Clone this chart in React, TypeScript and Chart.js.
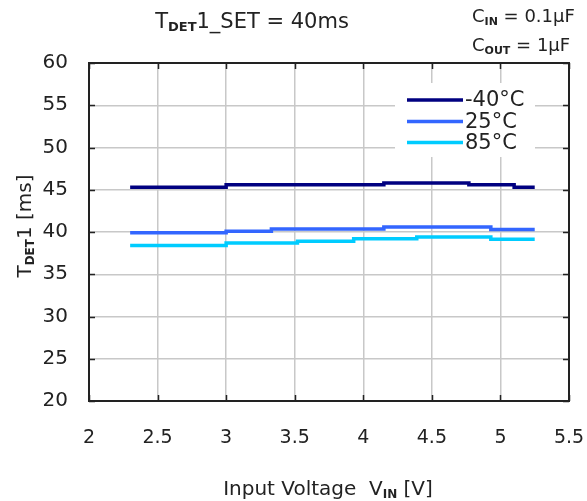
import React, { useEffect, useRef } from "react";
import { Chart, registerables } from "chart.js";

Chart.register(...registerables);

const xTicks = [2, 2.5, 3, 3.5, 4, 4.5, 5, 5.5];
const yTicks = [20, 25, 30, 35, 40, 45, 50, 55, 60];

const seriesNames = ["-40°C", "25°C", "85°C"];
const seriesColors = ["#000080", "#3366ff", "#00ccff"];

const navyX = [2.3, 3.0, 4.15, 4.77, 5.1, 5.25];
const navyY = [45.3, 45.6, 45.8, 45.6, 45.3, 45.3];
const blueX = [2.3, 3.0, 3.33, 4.15, 4.93, 5.25];
const blueY = [39.9, 40.1, 40.35, 40.6, 40.3, 40.3];
const cyanX = [2.3, 3.0, 3.52, 3.93, 4.39, 4.93, 5.25];
const cyanY = [38.4, 38.7, 38.9, 39.2, 39.4, 39.15, 39.15];

const FONT = '"DejaVu Sans", "Liberation Sans", Arial, sans-serif';

type Part = { t: string; sub?: boolean };

function drawRich(ctx: CanvasRenderingContext2D, parts: Part[], x: number, y: number, size: number, align: "left" | "center") {
  const subSize = Math.round(size * 0.62);
  let total = 0;
  const widths = parts.map((p) => {
    ctx.font = `${p.sub ? `bold ${subSize}` : size}px ${FONT}`;
    const w = ctx.measureText(p.t).width;
    total += w;
    return w;
  });
  let cx = align === "center" ? x - total / 2 : x;
  ctx.textBaseline = "alphabetic";
  ctx.textAlign = "left";
  parts.forEach((p, i) => {
    ctx.font = `${p.sub ? `bold ${subSize}` : size}px ${FONT}`;
    ctx.fillText(p.t, cx, p.sub ? y + size * 0.15 : y);
    cx += widths[i];
  });
}

const decorPlugin = {
  id: "decor",
  beforeDraw(chart: any) {
    const ctx = chart.ctx;
    ctx.save();
    ctx.fillStyle = "#ffffff";
    ctx.fillRect(0, 0, chart.width, chart.height);
    ctx.restore();
  },
  afterDatasetsDraw(chart: any) {
    const ctx: CanvasRenderingContext2D = chart.ctx;
    const { left, right, top, bottom } = chart.chartArea;
    const xs = chart.scales.x;
    const ys = chart.scales.y;
    ctx.save();
    // legend box
    ctx.fillStyle = "#ffffff";
    ctx.fillRect(395, 83, 140, 74);
    const legY = [100, 121.5, 142.5];
    seriesNames.forEach((n, i) => {
      ctx.strokeStyle = seriesColors[i];
      ctx.lineWidth = 3.5;
      ctx.beginPath();
      ctx.moveTo(407, legY[i]);
      ctx.lineTo(463, legY[i]);
      ctx.stroke();
      ctx.fillStyle = "#222";
      ctx.font = `21px ${FONT}`;
      ctx.textAlign = "left";
      ctx.textBaseline = "middle";
      ctx.fillText(n, 465, legY[i] + 1);
    });
    // inward ticks
    ctx.strokeStyle = "#222";
    ctx.lineWidth = 1.5;
    ctx.beginPath();
    xTicks.forEach((v) => {
      const px = Math.round(xs.getPixelForValue(v)) + 0.5;
      ctx.moveTo(px, bottom);
      ctx.lineTo(px, bottom - 6);
      ctx.moveTo(px, top);
      ctx.lineTo(px, top + 6);
    });
    yTicks.forEach((v) => {
      const py = Math.round(ys.getPixelForValue(v)) + 0.5;
      ctx.moveTo(left, py);
      ctx.lineTo(left + 6, py);
      ctx.moveTo(right, py);
      ctx.lineTo(right - 6, py);
    });
    ctx.stroke();
    // frame
    ctx.lineWidth = 2;
    ctx.strokeRect(left, top, right - left, bottom - top);
    // texts
    ctx.fillStyle = "#222";
    drawRich(ctx, [{ t: "T" }, { t: "DET", sub: true }, { t: "1_SET = 40ms" }], 252, 28, 21, "center");
    drawRich(ctx, [{ t: "C" }, { t: "IN", sub: true }, { t: " = 0.1μF" }], 472, 22, 18, "left");
    drawRich(ctx, [{ t: "C" }, { t: "OUT", sub: true }, { t: " = 1μF" }], 472, 51, 18, "left");
    drawRich(ctx, [{ t: "Input Voltage  V" }, { t: "IN", sub: true }, { t: " [V]" }], 328, 495, 20, "center");
    ctx.save();
    ctx.translate(31, 226);
    ctx.rotate(-Math.PI / 2);
    drawRich(ctx, [{ t: "T" }, { t: "DET", sub: true }, { t: "1 [ms]" }], 0, 0, 20, "center");
    ctx.restore();
    ctx.restore();
  },
};

function mk(xs: number[], ys: number[]) {
  return xs.map((x, i) => ({ x, y: ys[i] }));
}

export default function App() {
  const ref = useRef<HTMLCanvasElement | null>(null);
  useEffect(() => {
    document.body.style.margin = "0";
    const canvas = ref.current!;
    const chart = new Chart(canvas, {
      type: "line",
      data: {
        datasets: [
          { label: seriesNames[0], data: mk(navyX, navyY), borderColor: seriesColors[0], borderWidth: 3.5, pointRadius: 0, stepped: "before", fill: false },
          { label: seriesNames[1], data: mk(blueX, blueY), borderColor: seriesColors[1], borderWidth: 3.5, pointRadius: 0, stepped: "before", fill: false },
          { label: seriesNames[2], data: mk(cyanX, cyanY), borderColor: seriesColors[2], borderWidth: 3.5, pointRadius: 0, stepped: "before", fill: false },
        ],
      },
      options: {
        responsive: false,
        animation: false,
        devicePixelRatio: 1,
        layout: { padding: { left: 0, right: 18, top: 63, bottom: 0 } },
        plugins: { legend: { display: false }, tooltip: { enabled: false }, title: { display: false } },
        scales: {
          x: {
            type: "linear",
            min: 2,
            max: 5.5,
            afterBuildTicks: (s: any) => { s.ticks = xTicks.map((v) => ({ value: v })); },
            afterFit: (s: any) => { s.height = 100; s.paddingLeft = 0; s.paddingRight = 0; },
            grid: { color: "#c8c8c8", lineWidth: 1.5, drawTicks: false },
            border: { display: false },
            ticks: { padding: 26, color: "#222", font: { family: FONT, size: 19 }, maxRotation: 0, autoSkip: false, callback: (v: any) => String(v) },
          },
          y: {
            type: "linear",
            min: 20,
            max: 60,
            afterBuildTicks: (s: any) => { s.ticks = yTicks.map((v) => ({ value: v })); },
            afterFit: (s: any) => { s.width = 89; s.paddingTop = 0; s.paddingBottom = 0; },
            grid: { color: "#c8c8c8", lineWidth: 1.5, drawTicks: false },
            border: { display: false },
            ticks: { padding: 21, color: "#222", font: { family: FONT, size: 20 }, callback: (v: any) => String(v) },
          },
        },
      },
      plugins: [decorPlugin],
    } as any);
    return () => chart.destroy();
  }, []);
  return <canvas ref={ref} width={587} height={501} style={{ display: "block" }} />;
}
